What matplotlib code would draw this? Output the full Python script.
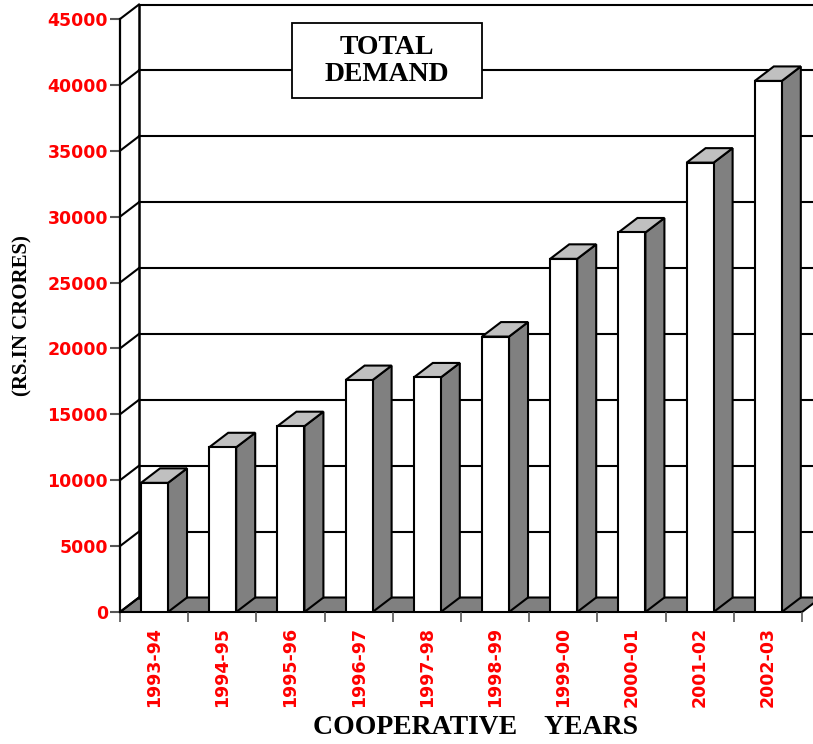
import matplotlib.pyplot as plt
from matplotlib.patches import Polygon, Rectangle

# data
years = ["1993-94", "1994-95", "1995-96", "1996-97", "1997-98",
         "1998-99", "1999-00", "2000-01", "2001-02", "2002-03"]
demand = [9800, 12500, 14100, 17600, 17800, 20900, 26800, 28800, 34100, 40300]
y_ticks = list(range(0, 45001, 5000))

W, H = 813, 744
SERIF = "Liberation Serif"
LW = 1.5

fig = plt.figure(figsize=(W / 100, H / 100), dpi=100)
ax = fig.add_axes([120 / W, (H - 612) / H, 682 / W, 593 / H])
ax.set_xlim(0, len(years))
ax.set_ylim(0, 45000)

# 3D depth offset in data units
dx = 19 / 68.2
dy = 1100
n = len(years)

# ── floor and back wall ──────────────────────────────────────────
ax.add_patch(Polygon([(0, 0), (n, 0), (n + dx, dy), (dx, dy)], closed=True,
                     facecolor="#808080", edgecolor="black", lw=LW,
                     clip_on=False, zorder=1))
ax.plot([dx, dx], [dy, 45000 + dy], color="black", lw=1.8, clip_on=False, zorder=1)
for v in y_ticks:
    ax.plot([0, dx], [v, v + dy], color="black", lw=LW, clip_on=False, zorder=1)
    if v > 0:
        ax.plot([dx, n + dx], [v + dy, v + dy], color="black", lw=LW,
                clip_on=False, zorder=1)

# ── bars ─────────────────────────────────────────────────────────
off, bw = 0.308, 0.396
for i, v in enumerate(demand):
    x0 = i + off
    x1 = x0 + bw
    ax.add_patch(Polygon([(x1, 0), (x1 + dx, dy), (x1 + dx, v + dy), (x1, v)],
                         closed=True, facecolor="#808080", edgecolor="black",
                         lw=LW, zorder=3))
    ax.add_patch(Polygon([(x0, v), (x1, v), (x1 + dx, v + dy), (x0 + dx, v + dy)],
                         closed=True, facecolor="#c0c0c0", edgecolor="black",
                         lw=LW, zorder=3))
    ax.add_patch(Rectangle((x0, 0), bw, v, facecolor="white",
                           edgecolor="black", lw=LW, zorder=4))

# ── axes / ticks ─────────────────────────────────────────────────
for s in ["top", "right", "bottom"]:
    ax.spines[s].set_visible(False)
ax.spines["left"].set_color("black")
ax.spines["left"].set_linewidth(1.6)
ax.spines["left"].set_zorder(5)

ax.set_yticks(y_ticks)
ax.set_yticklabels([str(t) for t in y_ticks], color="red",
                   fontweight="bold", fontsize=12.5)
ax.tick_params(axis="y", length=7.2, width=1.5, color="#555555", pad=1.5)

ax.set_xticks(range(n + 1))
ax.set_xticklabels([])
ax.set_xticks([i + 0.5 for i in range(n)], minor=True)
ax.set_xticklabels(years, minor=True, rotation=90, color="red",
                   fontweight="bold", fontsize=12.5)
ax.tick_params(axis="x", which="major", length=7.2, width=1.2, color="#555555")
ax.tick_params(axis="x", which="minor", length=0, pad=11)

# ── title box and axis titles ────────────────────────────────────
fig.patches.append(Rectangle((292 / W, 1 - 98 / H), 190 / W, 75 / H,
                             transform=fig.transFigure, facecolor="white",
                             edgecolor="black", lw=1.3, zorder=10))
fig.text(387 / W, 1 - 61 / H, "TOTAL\nDEMAND", ha="center", va="center",
         fontsize=20, fontweight="bold", family=SERIF, linespacing=1.15,
         zorder=11)
fig.text(22 / W, 1 - 316 / H, "(RS.IN CRORES)", rotation=90, ha="center",
         va="center", fontsize=15, fontweight="bold", family=SERIF)
fig.text(475 / W, 1 - 727 / H, "COOPERATIVE    YEARS", ha="center",
         va="center", fontsize=20, fontweight="bold", family=SERIF)

plt.savefig("out.png", dpi=100)
